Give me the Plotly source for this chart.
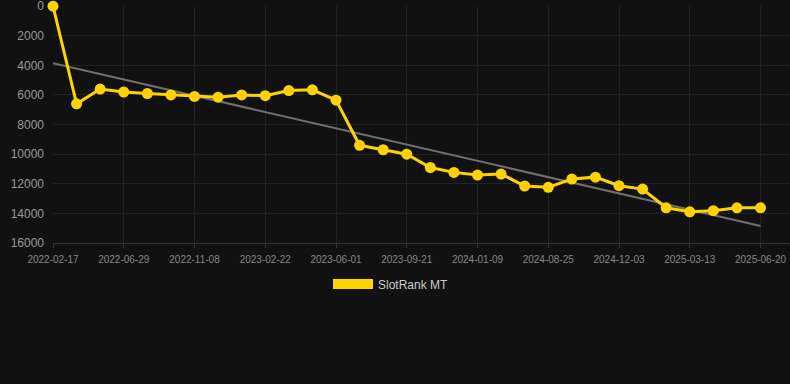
import plotly.graph_objects as go

categories = [
    "2022-02-17", "2022-03-31", "2022-05-15", "2022-06-29", "2022-08-12", "2022-09-25",
    "2022-11-08", "2022-12-14", "2023-01-18", "2023-02-22", "2023-03-27", "2023-04-28",
    "2023-06-01", "2023-07-08", "2023-08-14", "2023-09-21", "2023-10-27", "2023-12-03",
    "2024-01-09", "2024-03-25", "2024-06-09", "2024-08-25", "2024-09-27", "2024-10-30",
    "2024-12-03", "2025-01-05", "2025-02-08", "2025-03-13", "2025-04-15", "2025-05-18",
    "2025-06-20",
]
rank_values = [
    0, 6600, 5600, 5800, 5900, 6000, 6100, 6150, 6000, 6050, 5700, 5650, 6350,
    9400, 9700, 10000, 10900, 11230, 11410, 11340, 12150, 12240, 11680, 11550,
    12130, 12360, 13620, 13890, 13820, 13620, 13620,
]
trend_values = [3850, 14850]
tick_labels = categories[::3]
y_ticks = [0, 2000, 4000, 6000, 8000, 10000, 12000, 14000, 16000]
y_tick_text = [str(v) for v in y_ticks]

YELLOW = "#FFD200"
BG = "#111111"
GRID = "#222222"

fig = go.Figure()
fig.add_trace(go.Scatter(
    x=[categories[0], categories[-1]], y=trend_values, mode="lines",
    line=dict(color="#707070", width=2), showlegend=False, hoverinfo="skip",
))
fig.add_trace(go.Scatter(
    x=categories, y=rank_values, mode="lines+markers",
    line=dict(color=YELLOW, width=3), marker=dict(color=YELLOW, size=11),
    cliponaxis=False, showlegend=False, name="SlotRank MT",
))
fig.add_trace(go.Scatter(
    x=[None], y=[None], mode="lines", line=dict(color=YELLOW, width=12),
    name="SlotRank MT", showlegend=True,
))

fig.update_layout(
    width=790, height=384,
    margin=dict(l=53, r=0, t=6, b=141),
    paper_bgcolor=BG, plot_bgcolor=BG,
    font=dict(family="Liberation Sans, Arial, sans-serif", color="#999999"),
    legend=dict(
        orientation="h", xref="container", yref="container",
        x=0.5 - 4 / 790, xanchor="center", y=1 - 284 / 384, yanchor="middle",
        font=dict(size=12, color="#cccccc"), itemwidth=40,
        bgcolor="rgba(0,0,0,0)",
    ),
    xaxis=dict(
        type="category", categoryorder="array", categoryarray=categories,
        range=[0, 31.25], tickmode="array", tickvals=tick_labels, ticktext=tick_labels,
        showgrid=True, gridcolor=GRID, gridwidth=1,
        showline=True, linecolor="#333333", linewidth=1,
        ticks="outside", ticklen=4, tickcolor="#333333",
        tickfont=dict(size=10, color="#888888"), zeroline=False,
        ticklabeloverflow="allow", ticklabelstandoff=3,
    ),
    yaxis=dict(
        range=[16000, -10], tickmode="array", tickvals=y_ticks, ticktext=y_tick_text,
        showgrid=True, gridcolor=GRID, gridwidth=1, zeroline=False,
        tickfont=dict(size=12, color="#999999"), ticklabelstandoff=8,
        ticklabeloverflow="allow",
    ),
)

fig.write_html(
    "out.html",
    config={"displayModeBar": False},
    post_script="document.body.style.margin='0';document.body.style.overflow='hidden';",
)
